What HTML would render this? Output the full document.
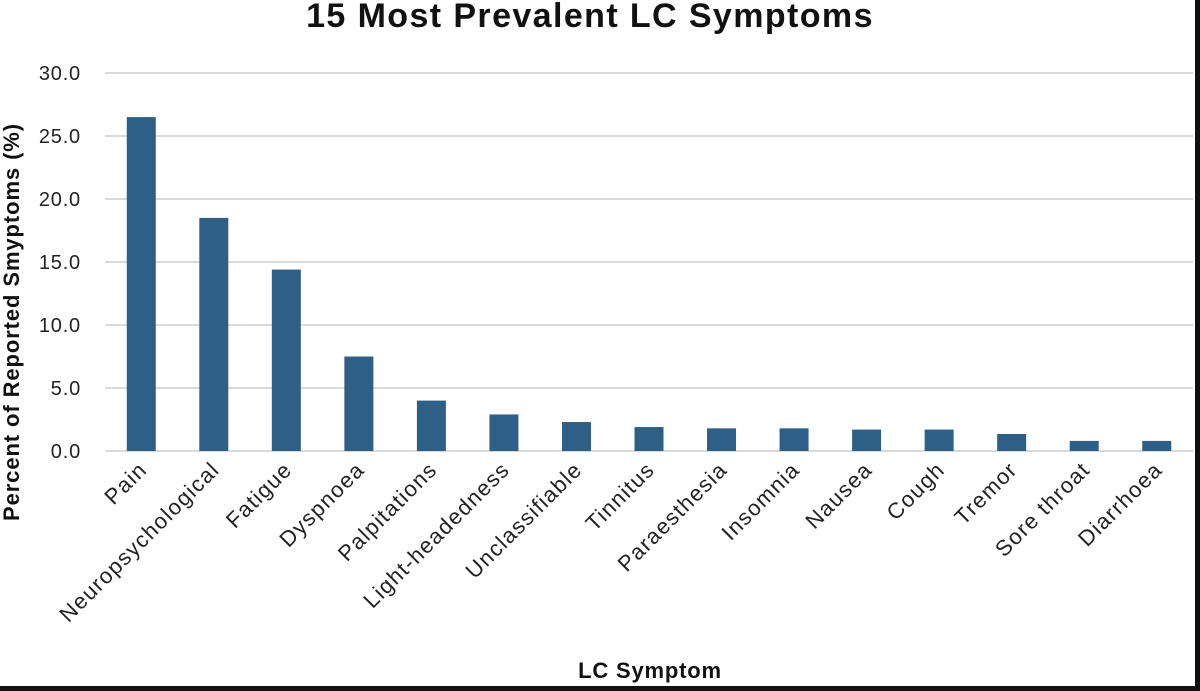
<!DOCTYPE html>
<html><head><meta charset="utf-8"><style>
html,body{margin:0;padding:0;background:#fff;}
svg{display:block;font-family:"Liberation Sans",Arial,sans-serif;}
</style></head><body>
<svg id="chart" width="1200" height="691" viewBox="0 0 1200 691">
<rect x="0" y="0" width="1200" height="691" fill="#fff"/>
<rect x="1195" y="0" width="5" height="691" fill="#111"/>
<rect x="0" y="686" width="1200" height="5" fill="#111"/>
<text x="590" y="27" text-anchor="middle" font-size="34" font-weight="bold" letter-spacing="1.4" fill="#111">15 Most Prevalent LC Symptoms</text>
<text x="650" y="678" text-anchor="middle" font-size="22" font-weight="bold" letter-spacing="0.8" fill="#111">LC Symptom</text>
<text transform="translate(19,322) rotate(-90)" text-anchor="middle" font-size="22" font-weight="bold" letter-spacing="0.9" fill="#111">Percent of Reported Smyptoms (%)</text>
<g id="grid"></g><g id="bars"></g><g id="xlabels"></g><g id="ylabels"></g>
</svg>
<script>
const categories=["Pain","Neuropsychological","Fatigue","Dyspnoea","Palpitations","Light-headedness","Unclassifiable","Tinnitus","Paraesthesia","Insomnia","Nausea","Cough","Tremor","Sore throat","Diarrhoea"];
const values=[26.5,18.5,14.4,7.5,4.0,2.9,2.3,1.9,1.8,1.8,1.7,1.7,1.35,0.8,0.8];
const yTicks=[0,5,10,15,20,25,30];
const yTickLabels=["0.0","5.0","10.0","15.0","20.0","25.0","30.0"];
const NS="http://www.w3.org/2000/svg";
const x0=105,x1=1193,yb=451,yt=73,ymax=30;
const band=(x1-x0)/categories.length;
const xC=i=>x0+band*(i+0.5);
const yS=v=>yb-(v/ymax)*(yb-yt);
function mk(t,a,p){const e=document.createElementNS(NS,t);for(const k in a)e.setAttribute(k,a[k]);p.appendChild(e);return e;}
const grid=document.getElementById('grid'),bars=document.getElementById('bars'),xl=document.getElementById('xlabels'),yl=document.getElementById('ylabels');
yTicks.forEach((v,i)=>{
  const l=mk('line',{x1:x0,x2:x1,y1:yS(v),y2:yS(v),stroke:'#d9d9d9','stroke-width':2},grid);
  
  
  const t=mk('text',{x:81,y:yS(v)+7,'text-anchor':'end','font-size':20,'letter-spacing':0.8,fill:'#222'},yl);
  t.textContent=yTickLabels[i];
  
  
});
categories.forEach((c,i)=>{
  const w=29;
  const r=mk('rect',{x:xC(i)-w/2,y:yS(values[i]),width:w,height:yb-yS(values[i]),fill:'#2e5f86'},bars);
  
  
  const t=mk('text',{transform:`translate(${xC(i)+7},471) rotate(-45)`,'text-anchor':'end','font-size':22,'letter-spacing':1.3,fill:'#222'},xl);
  t.textContent=c;
  
  
});
</script>
</body></html>
